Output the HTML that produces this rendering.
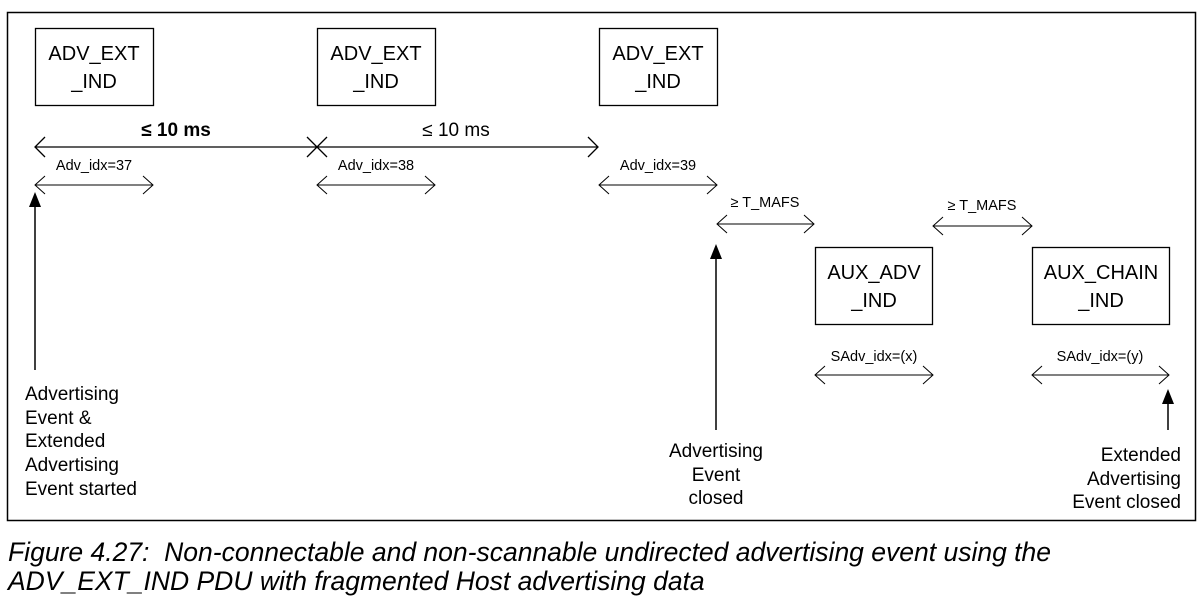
<!DOCTYPE html>
<html><head><meta charset="utf-8"><style>
body{margin:0;background:#fff;width:1203px;height:601px;overflow:hidden}
svg{position:absolute;left:0;top:0}
.cap{position:absolute;left:8px;top:538px;font:italic 26.5px/29px "Liberation Sans",sans-serif;color:#000;white-space:nowrap}
</style></head><body>
<svg width="1203" height="601" xmlns="http://www.w3.org/2000/svg" font-family="Liberation Sans, DejaVu Sans, sans-serif">
<rect x="7.5" y="12.5" width="1188" height="508" fill="none" stroke="#000" stroke-width="1.5"/>
<g fill="none" stroke="#000" stroke-width="1.3">
<rect x="35.5" y="28.5" width="118" height="77"/>
<rect x="317.5" y="28.5" width="118" height="77"/>
<rect x="599.5" y="28.5" width="118" height="77"/>
<rect x="815.5" y="247.5" width="117" height="77"/>
<rect x="1032.5" y="247.5" width="137" height="77"/>
<path d="M35,147 H598 M45,137 L35,147 L45,157 M307,137 L327,157 M327,137 L307,157 M588,137 L598,147 L588,157"/>
</g>
<g fill="none" stroke="#000" stroke-width="1">
<path d="M35,185 H153 M45,176 L35,185 L45,194 M143,176 L153,185 L143,194"/>
<path d="M317,185 H435 M327,176 L317,185 L327,194 M425,176 L435,185 L425,194"/>
<path d="M599,185 H717 M609,176 L599,185 L609,194 M707,176 L717,185 L707,194"/>
<path d="M717,224 H814 M727,215 L717,224 L727,233 M804,215 L814,224 L804,233"/>
<path d="M933,226 H1032 M943,217 L933,226 L943,235 M1022,217 L1032,226 L1022,235"/>
<path d="M815,375 H933 M825,366 L815,375 L825,384 M923,366 L933,375 L923,384"/>
<path d="M1032,375 H1169 M1042,366 L1032,375 L1042,384 M1159,366 L1169,375 L1159,384"/>
</g>
<g stroke="#000" stroke-width="1.5">
<line x1="35" y1="370" x2="35" y2="205"/>
<line x1="716" y1="430" x2="716" y2="258"/>
<line x1="1168" y1="430" x2="1168" y2="402"/>
</g>
<g fill="#000">
<polygon points="35,192 29,207 41,207"/>
<polygon points="716,244 710,259 722,259"/>
<polygon points="1168,389 1162,404 1174,404"/>
</g>
<g font-size="20" text-anchor="middle" fill="#000">
<text x="94" y="60">ADV_EXT</text><text x="94" y="88">_IND</text>
<text x="376" y="60">ADV_EXT</text><text x="376" y="88">_IND</text>
<text x="658" y="60">ADV_EXT</text><text x="658" y="88">_IND</text>
<text x="874" y="279">AUX_ADV</text><text x="874" y="307">_IND</text>
<text x="1101" y="279">AUX_CHAIN</text><text x="1101" y="307">_IND</text>
<text x="176" y="136" font-size="19" font-weight="bold">≤ 10 ms</text>
<text x="456" y="136" font-size="19">≤ 10 ms</text>
</g>
<g font-size="14.5" text-anchor="middle" fill="#000">
<text x="94" y="170">Adv_idx=37</text>
<text x="376" y="170">Adv_idx=38</text>
<text x="658" y="170">Adv_idx=39</text>
<text x="765" y="207">≥ T_MAFS</text>
<text x="982" y="210">≥ T_MAFS</text>
<text x="874" y="361">SAdv_idx=(x)</text>
<text x="1100" y="361">SAdv_idx=(y)</text>
</g>
<g font-size="19" fill="#000">
<text x="25" y="400">Advertising</text><text x="25" y="424">Event &amp;</text><text x="25" y="447">Extended</text><text x="25" y="471">Advertising</text><text x="25" y="495">Event  started</text>
<g text-anchor="middle"><text x="716" y="457">Advertising</text><text x="716" y="481">Event</text><text x="716" y="504">closed</text></g>
<g text-anchor="end"><text x="1181" y="461">Extended</text><text x="1181" y="485">Advertising</text><text x="1181" y="508">Event closed</text></g>
</g>
</svg>
<div class="cap">Figure 4.27:&nbsp; Non-connectable and non-scannable undirected advertising event using the<br>ADV_EXT_IND PDU with fragmented Host advertising data</div>
</body></html>
